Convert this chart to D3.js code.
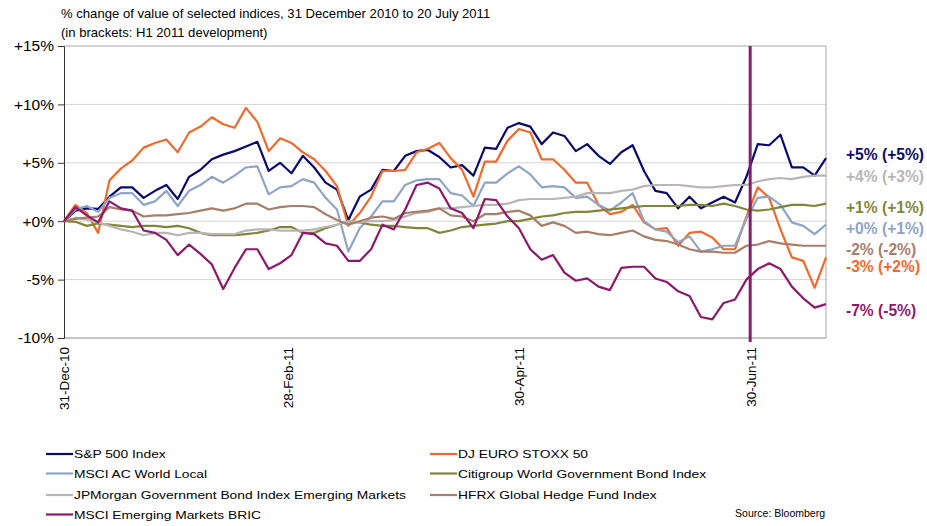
<!DOCTYPE html>
<html><head><meta charset="utf-8">
<script src="https://cdn.jsdelivr.net/npm/d3@7"></script>
<style>
html,body{margin:0;padding:0;background:#fff;}
svg{display:block;font-family:Arial,"Liberation Sans",sans-serif;}
</style></head>
<body><svg id="c" width="927" height="526"></svg>
<script>
const titleLines = ["% change of value of selected indices, 31 December 2010 to 20 July 2011", "(in brackets: H1 2011 development)"];
const dates = ["2010-12-31","2011-01-03","2011-01-06","2011-01-09","2011-01-12","2011-01-15","2011-01-18","2011-01-21","2011-01-24","2011-01-27",
"2011-01-30","2011-02-02","2011-02-05","2011-02-08","2011-02-11","2011-02-14","2011-02-17","2011-02-20","2011-02-23","2011-02-26",
"2011-03-01","2011-03-04","2011-03-07","2011-03-10","2011-03-13","2011-03-16","2011-03-19","2011-03-22","2011-03-25","2011-03-28",
"2011-03-31","2011-04-03","2011-04-06","2011-04-09","2011-04-12","2011-04-15","2011-04-18","2011-04-21","2011-04-24","2011-04-27",
"2011-04-30","2011-05-03","2011-05-06","2011-05-09","2011-05-12","2011-05-15","2011-05-18","2011-05-21","2011-05-24","2011-05-27",
"2011-05-30","2011-06-02","2011-06-05","2011-06-08","2011-06-11","2011-06-14","2011-06-17","2011-06-20","2011-06-23","2011-06-26",
"2011-06-29","2011-07-02","2011-07-05","2011-07-08","2011-07-11","2011-07-14","2011-07-17","2011-07-20"];
const sp500 = [0,0.9,1.1,1.05,2.1,2.9,2.9,2.0,2.6,3.1, 1.9,3.8,4.4,5.3,5.7,6.0,6.4,6.8,4.3,5.0, 4.1,5.6,4.6,3.3,2.7,0.1,2.1,2.7,4.4,4.3,
5.6,6.0,6.1,5.5,4.6,4.8,3.9,6.3,6.2,8.0, 8.4,8.1,6.6,7.6,7.3,6.0,6.6,5.6,4.9,5.9, 6.5,4.3,2.6,2.4,1.1,2.1,1.1,1.6,2.1,1.6, 3.8,6.6,6.5,7.4,4.6,4.6,3.9,5.4];
const euroStoxx = [0,1.4,0.7,-1.0,3.5,4.5,5.2,6.3,6.7,7.0, 5.9,7.6,8.1,8.9,8.3,8.0,9.7,8.5,6.0,7.1, 6.7,5.9,5.3,4.3,3.0,-0.4,0.7,2.1,4.3,4.3,
4.4,5.9,6.2,6.7,5.4,4.4,2.1,5.1,5.1,6.9, 7.9,7.6,5.3,5.3,4.4,3.3,3.3,1.4,0.6,0.8, 1.4,-0.1,-0.7,-0.6,-2.1,-1.0,-0.9,-1.4,-2.4,-2.4, 0.4,2.9,2.0,-0.7,-3.1,-3.4,-5.7,-3.1];
const msciWorld = [0,1.0,1.3,0.8,2.0,2.4,2.4,1.4,1.7,2.6, 1.3,2.6,3.1,3.8,3.3,3.9,4.6,4.7,2.3,2.9, 3.0,3.6,3.3,2.0,1.0,-2.6,-0.6,0.4,1.7,1.7,
3.1,3.5,3.6,3.6,2.4,2.2,1.3,3.3,3.3,4.1, 4.7,4.0,2.9,3.0,2.9,2.0,2.1,1.4,0.9,1.6, 2.4,0.0,-0.7,-0.9,-1.8,-1.3,-2.6,-2.4,-2.1,-2.1, 0.2,2.0,2.1,1.4,-0.1,-0.4,-1.1,-0.3];
const citiBond = [0,-0.05,-0.4,-0.2,-0.3,-0.4,-0.5,-0.4,-0.4,-0.5, -0.4,-0.6,-1.0,-1.2,-1.2,-1.2,-1.1,-1.0,-0.8,-0.5, -0.5,-1.0,-1.0,-0.6,-0.3,0.0,-0.1,-0.3,-0.4,-0.4,
-0.5,-0.6,-0.6,-1.0,-0.8,-0.5,-0.4,-0.3,-0.2,0.0, 0.0,0.2,0.4,0.5,0.7,0.8,0.8,0.9,1.0,1.1, 1.2,1.3,1.3,1.3,1.3,1.4,1.4,1.3,1.5,1.3, 1.0,0.9,1.0,1.2,1.4,1.4,1.3,1.5];
const jpmEm = [0,0.3,0.15,-0.1,-0.4,-0.7,-0.9,-1.2,-1.0,-1.0, -1.2,-1.0,-1.0,-1.1,-1.1,-1.1,-0.8,-0.7,-0.7,-0.8, -0.8,-0.8,-0.7,-0.5,-0.3,0.0,-0.1,0.0,0.0,0.1,
0.4,0.7,0.8,1.1,1.1,1.2,1.3,1.4,1.4,1.5, 1.8,1.9,1.9,1.9,2.0,2.1,2.4,2.4,2.4,2.6, 2.7,3.0,3.1,3.1,3.1,3.0,2.9,2.9,3.0,3.1, 3.1,3.4,3.6,3.7,3.6,3.8,3.9,3.9];
const hfrx = [0,0.2,0.3,0.4,1.2,1.0,0.9,0.4,0.5,0.5, 0.6,0.7,0.9,1.1,0.9,1.1,1.5,1.5,1.0,1.2, 1.3,1.3,1.2,0.6,0.1,-0.3,0.0,0.3,0.4,0.2,
0.7,0.8,0.9,1.1,0.5,0.4,0.0,0.6,0.6,0.8, 0.9,0.5,-0.4,-0.1,-0.4,-1.0,-0.9,-1.1,-1.2,-1.0, -0.8,-1.3,-1.6,-1.7,-2.0,-2.4,-2.6,-2.6,-2.7,-2.7, -2.1,-2.0,-1.7,-1.9,-2.0,-2.1,-2.1,-2.1];
const bric = [0,1.2,0.5,-0.1,1.7,1.1,0.9,-0.8,-1.0,-1.6, -2.9,-2.0,-2.8,-3.7,-5.8,-4.0,-2.4,-2.4,-4.1,-3.6, -2.9,-1.0,-1.1,-1.9,-2.1,-3.4,-3.4,-2.4,-0.3,-0.7,
1.0,3.1,3.3,2.8,1.1,0.7,-0.6,1.9,1.8,0.4, -0.6,-2.4,-3.3,-2.9,-4.4,-5.1,-4.9,-5.6,-5.9,-4.0, -3.9,-3.9,-4.9,-5.2,-6.0,-6.4,-8.2,-8.4,-7.0,-6.7, -5.0,-4.1,-3.6,-4.1,-5.6,-6.6,-7.4,-7.1];

const seriesNames = ["S&P 500 Index","DJ EURO STOXX 50","MSCI AC World Local","Citigroup World Government Bond Index","JPMorgan Government Bond Index Emerging Markets","HFRX Global Hedge Fund Index","MSCI Emerging Markets BRIC"];
const seriesValues = [sp500, euroStoxx, msciWorld, citiBond, jpmEm, hfrx, bric];
const seriesColors = ["#0a0a6e","#f26a2b","#8ea4c8","#7f8637","#bab5b5","#a87e6b","#8c1a6c"];
const endLabels = ["+5% (+5%)","-3% (+2%)","+0% (+1%)","+1% (+1%)","+4% (+3%)","-2% (-2%)","-7% (-5%)"];
const endLabelPos = [5.7, -3.9, -0.6, 1.2, 3.8, -2.4, -7.6];
const yTicks = [-10,-5,0,5,10,15];
const yTickLabels = ["-10%","-5%","+0%","+5%","+10%","+15%"];
const xTickDates = ["2010-12-31","2011-02-28","2011-04-30","2011-06-30"];
const xTickLabels = ["31-Dec-10","28-Feb-11","30-Apr-11","30-Jun-11"];
const markerDate = "2011-06-30";
const sourceText = "Source: Bloomberg";

const parse = d3.timeParse("%Y-%m-%d");
const svg = d3.select("#c");
const L = 64, R = 826, T = 46, B = 338;
const x = d3.scaleTime().domain([parse(dates[0]), parse(dates[dates.length-1])]).range([L, R]);
const y = d3.scaleLinear().domain([-10, 15]).range([B, T]);

// title
svg.append("g").selectAll("text").data(titleLines).join("text")
  .attr("x", 61).attr("y", (d,i) => 18 + i*18.5)
  .attr("font-size", "13.1px").attr("fill", "#000").text(d => d);

// gridlines
svg.append("g").selectAll("line").data(yTicks.filter(v => v > -10 && v < 15)).join("line")
  .attr("x1", L).attr("x2", R).attr("y1", d => y(d)).attr("y2", d => y(d))
  .attr("stroke", "#d4d4d4").attr("stroke-width", 1);
// frame
svg.append("line").attr("x1", L).attr("x2", R).attr("y1", y(15)).attr("y2", y(15)).attr("stroke", "#a6a6a6");
svg.append("line").attr("x1", R).attr("x2", R).attr("y1", T).attr("y2", B).attr("stroke", "#a6a6a6");
svg.append("line").attr("x1", L).attr("x2", R).attr("y1", B).attr("y2", B).attr("stroke", "#8c8c8c");

// y axis
const yAx = svg.append("g").attr("transform", `translate(${L},0)`)
  .call(d3.axisLeft(y).tickValues(yTicks).tickSize(6).tickPadding(4)
    .tickFormat((d,i) => yTickLabels[i]));
yAx.select(".domain").attr("stroke", "#333");
yAx.selectAll(".tick line").attr("stroke", "#333");
yAx.selectAll("text").attr("font-size", "15.5px").attr("fill", "#000").attr("font-family", "Arial,'Liberation Sans',sans-serif");

// x axis
const xAx = svg.append("g").attr("transform", `translate(0,${B})`)
  .call(d3.axisBottom(x).tickValues(xTickDates.map(parse)).tickSize(0)
    .tickFormat((d,i) => xTickLabels[i]));
xAx.select(".domain").remove();
xAx.selectAll("text").attr("font-size", "13.5px").attr("fill", "#000")
  .attr("font-family", "Arial,'Liberation Sans',sans-serif")
  .attr("transform", "rotate(-90)").attr("text-anchor", "end")
  .attr("x", -9).attr("y", 0).attr("dy", "0.36em");

// series
const line = d3.line().x((d,i) => x(parse(dates[i]))).y(d => y(d));
svg.append("g").selectAll("path").data(seriesValues).join("path")
  .attr("d", d => line(d)).attr("fill", "none")
  .attr("stroke", (d,i) => seriesColors[i]).attr("stroke-width", 2.2)
  .attr("stroke-linejoin", "round");

// marker line
svg.append("line").attr("x1", x(parse(markerDate))).attr("x2", x(parse(markerDate)))
  .attr("y1", T).attr("y2", B + 4).attr("stroke", "#8c1a6c").attr("stroke-width", 3);

// end labels
svg.append("g").selectAll("text").data(endLabels).join("text")
  .attr("x", 846).attr("y", (d,i) => y(endLabelPos[i])).attr("dy", "0.36em")
  .attr("font-size", "15.6px").attr("font-weight", "bold")
  .attr("fill", (d,i) => seriesColors[i]).text(d => d);

// legend
const legendCols = [46, 430];
const legendRows = [454, 473.5, 495, 514.5];
const leg = svg.append("g").selectAll("g").data(seriesNames).join("g")
  .attr("transform", (d,i) => `translate(${legendCols[i%2]},${legendRows[Math.floor(i/2)]})`);
leg.append("line").attr("x1", 0).attr("x2", 27).attr("y1", 0).attr("y2", 0)
  .attr("stroke", (d,i) => seriesColors[i]).attr("stroke-width", 2.2);
leg.append("text").attr("transform", "translate(28,0) scale(1.17,1)").attr("dy", "0.36em")
  .attr("font-size", "11.8px").attr("fill", "#000").text(d => d);

svg.append("text").attr("x", 825).attr("y", 513.5).attr("dy", "0.36em").attr("text-anchor", "end")
  .attr("font-size", "10.5px").attr("fill", "#000").text(sourceText);
</script></body></html>
